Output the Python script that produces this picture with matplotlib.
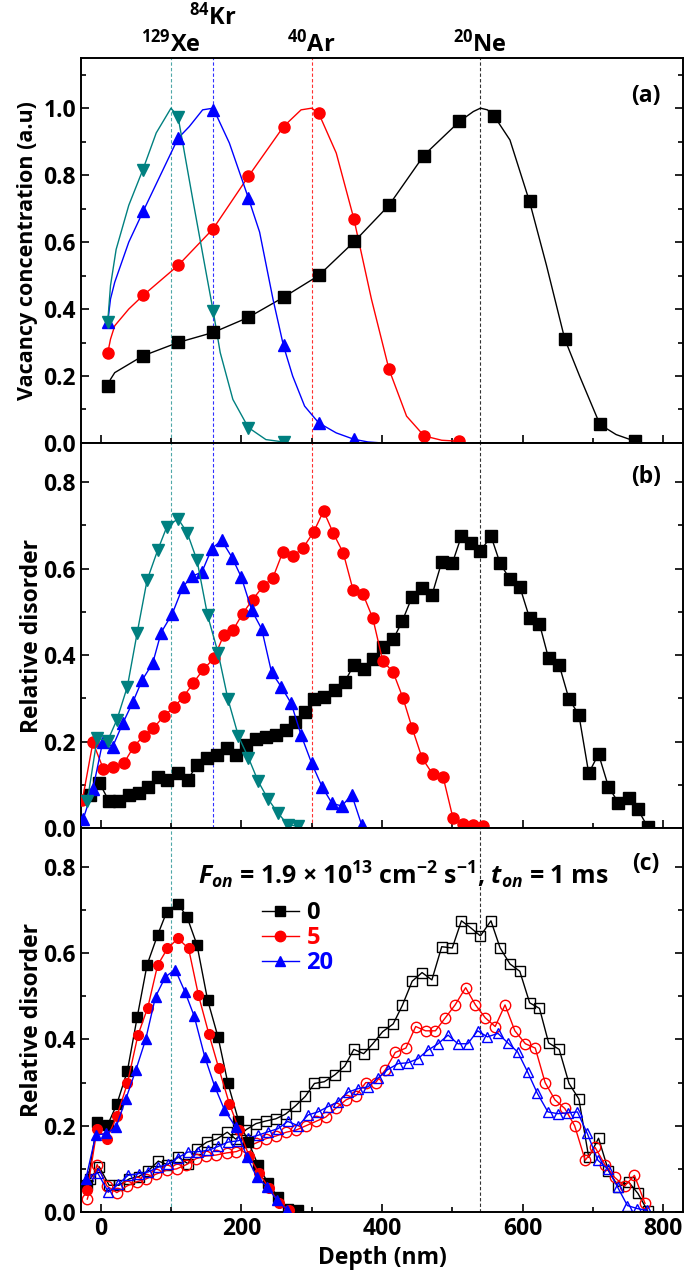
"""Profils de lacunes (SRIM) et de désordre relatif (RBS/C) en fonction de la profondeur.

Trois panneaux empilés : (a) concentration de lacunes calculée, (b) désordre
relatif mesuré pour chaque ion, (c) effet du flux pulsé pour Xe et Ne.
"""

import matplotlib

matplotlib.use("Agg")
import matplotlib.pyplot as plt
from matplotlib.lines import Line2D
from matplotlib.ticker import MultipleLocator

plt.rcParams["font.family"] = ["Open Sans", "DejaVu Sans"]
plt.rcParams["font.weight"] = "bold"
plt.rcParams["axes.labelweight"] = "bold"
plt.rcParams["mathtext.fontset"] = "custom"
plt.rcParams["mathtext.rm"] = "Open Sans:bold"
plt.rcParams["mathtext.it"] = "Open Sans:italic:bold"
plt.rcParams["mathtext.bf"] = "Open Sans:bold"

BLACK, RED, BLUE, TEAL = "black", "#ff0000", "#0000ff", "#008080"

# --- (a) concentration de lacunes : courbe + symboles tous les 50 nm -----
A_NE_CURVE_X = [10, 14, 20, 60, 110, 160, 210, 260, 310, 360, 410, 460, 510,
                530, 540, 550, 560, 582, 610, 634, 660, 681, 710, 733, 760]
A_NE_CURVE_Y = [0.17, 0.19, 0.21, 0.26, 0.30, 0.33, 0.375, 0.435, 0.50, 0.60,
                0.71, 0.86, 0.96, 0.99, 1.0, 0.995, 0.975, 0.905, 0.72, 0.53,
                0.31, 0.2, 0.055, 0.025, 0.005]
A_NE_X = [10, 60, 110, 160, 210, 260, 310, 360, 410, 460, 510, 560, 610, 660,
          710, 760]
A_NE_Y = [0.169, 0.26, 0.302, 0.332, 0.377, 0.437, 0.503, 0.603, 0.712, 0.858,
          0.963, 0.977, 0.724, 0.309, 0.056, 0.006]

A_AR_CURVE_X = [10, 14, 20, 40, 60, 110, 160, 210, 260, 285, 300, 310, 335,
                360, 385, 410, 435, 460, 485, 510]
A_AR_CURVE_Y = [0.268, 0.31, 0.35, 0.40, 0.44, 0.53, 0.64, 0.796, 0.945, 0.995,
                1.0, 0.985, 0.866, 0.67, 0.43, 0.22, 0.08, 0.021, 0.008, 0.005]
A_AR_X = [10, 60, 110, 160, 210, 260, 310, 360, 410, 460, 510]
A_AR_Y = [0.268, 0.441, 0.531, 0.64, 0.796, 0.945, 0.985, 0.67, 0.22, 0.021,
          0.006]

A_KR_CURVE_X = [10, 14, 20, 40, 60, 85, 110, 126, 145, 160, 183, 210, 226, 245,
                260, 273, 290, 310, 335, 360, 380, 400]
A_KR_CURVE_Y = [0.36, 0.43, 0.48, 0.60, 0.69, 0.80, 0.91, 0.945, 0.995, 1.0,
                0.896, 0.732, 0.63, 0.43, 0.29, 0.2, 0.11, 0.06, 0.03, 0.011,
                0.003, 0.0]
A_KR_X = [10, 60, 110, 160, 210, 260, 310, 360]
A_KR_Y = [0.36, 0.692, 0.911, 0.995, 0.732, 0.292, 0.061, 0.011]

A_XE_CURVE_X = [10, 14, 22, 40, 60, 79, 100, 110, 131, 150, 160, 170, 188, 210,
                235, 260]
A_XE_CURVE_Y = [0.36, 0.47, 0.578, 0.71, 0.816, 0.926, 1.0, 0.975, 0.727,
                0.508, 0.394, 0.27, 0.13, 0.046, 0.01, 0.003]
A_XE_X = [10, 60, 110, 160, 210, 260]
A_XE_Y = [0.361, 0.816, 0.975, 0.394, 0.046, 0.003]

# --- (b) désordre relatif, fluence nulle --------------------------------
B_NE_X = [-15, -2, 12, 26, 41, 54, 68, 82, 95, 110, 124, 137, 151, 165, 180,
          192, 207, 221, 235, 249, 263, 277, 291, 304, 318, 333, 347, 360, 374,
          387, 401, 416, 429, 443, 457, 471, 485, 500, 513, 526, 540, 555, 568,
          582, 596, 610, 624, 637, 652, 666, 680, 694, 708, 722, 736, 751, 764,
          778]
B_NE_Y = [0.077, 0.105, 0.062, 0.062, 0.077, 0.082, 0.096, 0.118, 0.11, 0.128,
          0.112, 0.146, 0.162, 0.169, 0.185, 0.169, 0.191, 0.205, 0.211, 0.216,
          0.227, 0.246, 0.268, 0.298, 0.302, 0.318, 0.338, 0.377, 0.367, 0.39,
          0.418, 0.436, 0.479, 0.535, 0.555, 0.538, 0.615, 0.612, 0.675, 0.659,
          0.64, 0.675, 0.612, 0.575, 0.558, 0.485, 0.472, 0.392, 0.377, 0.298,
          0.262, 0.127, 0.171, 0.096, 0.059, 0.069, 0.043, 0.002]

B_AR_X = [-26, -11, 4, 18, 33, 47, 61, 75, 90, 104, 118, 132, 146, 161, 175,
          188, 202, 216, 231, 245, 259, 273, 288, 303, 317, 331, 345, 359, 373,
          387, 401, 416, 430, 443, 457, 472, 487, 501, 515, 529, 544]
B_AR_Y = [0.065, 0.198, 0.136, 0.142, 0.15, 0.188, 0.213, 0.231, 0.259, 0.279,
          0.304, 0.336, 0.367, 0.392, 0.446, 0.457, 0.496, 0.528, 0.559, 0.579,
          0.638, 0.628, 0.648, 0.685, 0.733, 0.681, 0.636, 0.55, 0.541, 0.485,
          0.387, 0.36, 0.30, 0.231, 0.162, 0.125, 0.118, 0.023, 0.01, 0.008,
          0.004]

B_KR_X = [-25, -11, 3, 17, 32, 46, 59, 74, 86, 102, 117, 130, 144, 158, 172,
          187, 200, 215, 229, 243, 257, 271, 285, 300, 315, 329, 343, 357, 371]
B_KR_Y = [0.02, 0.09, 0.2, 0.188, 0.244, 0.292, 0.342, 0.381, 0.452, 0.496,
          0.558, 0.582, 0.592, 0.646, 0.665, 0.625, 0.58, 0.503, 0.46, 0.36,
          0.326, 0.288, 0.215, 0.15, 0.095, 0.057, 0.051, 0.077, 0.008]

B_XE_X = [-19, -5, 10, 23, 38, 52, 66, 81, 94, 110, 123, 137, 152, 167, 181,
          196, 210, 224, 238, 252, 266, 281]
B_XE_Y = [0.062, 0.208, 0.202, 0.25, 0.327, 0.452, 0.573, 0.642, 0.696, 0.715,
          0.683, 0.619, 0.492, 0.405, 0.298, 0.212, 0.163, 0.108, 0.067, 0.035,
          0.008, 0.004]

# --- (c) Xe (symboles pleins) et Ne (symboles creux) pour 0, 5 et 20 -----
C_XE5_X = [-19, -5, 9, 23, 38, 53, 67, 81, 95, 110, 125, 139, 154, 168, 183,
           197, 211, 225, 240, 254, 268]
C_XE5_Y = [0.05, 0.193, 0.17, 0.222, 0.298, 0.41, 0.474, 0.572, 0.611, 0.634,
           0.611, 0.503, 0.412, 0.333, 0.251, 0.19, 0.13, 0.09, 0.055, 0.02,
           0.005]
C_XE20_X = [-21, -7, 8, 22, 36, 50, 64, 78, 92, 106, 120, 133, 148, 162, 176,
            192, 208, 222, 237, 251, 265]
C_XE20_Y = [0.077, 0.178, 0.182, 0.197, 0.263, 0.329, 0.4, 0.499, 0.545, 0.562,
            0.51, 0.454, 0.36, 0.292, 0.237, 0.197, 0.128, 0.081, 0.058, 0.027,
            0.005]
C_NE5_X = [-19, -5, 9, 23, 37, 51, 65, 79, 94, 108, 122, 136, 150, 164, 179,
           193, 207, 221, 235, 249, 264, 278, 292, 306, 320, 334, 349, 363, 377,
           391, 405, 419, 434, 448, 462, 476, 490, 504, 519, 533, 547, 561, 575,
           589, 604, 618, 632, 646, 660, 674, 689, 703, 717, 731, 745, 759, 774]
C_NE5_Y = [0.03, 0.11, 0.06, 0.045, 0.06, 0.07, 0.077, 0.088, 0.097, 0.1,
           0.11, 0.124, 0.13, 0.132, 0.137, 0.14, 0.15, 0.16, 0.17, 0.176,
           0.185, 0.19, 0.2, 0.21, 0.22, 0.24, 0.26, 0.27, 0.3, 0.3,
           0.33, 0.37, 0.38, 0.43, 0.42, 0.42, 0.45, 0.48, 0.52, 0.48,
           0.45, 0.43, 0.48, 0.42, 0.39, 0.38, 0.30, 0.26, 0.24, 0.20,
           0.12, 0.15, 0.11, 0.08, 0.06, 0.085, 0.02]
C_NE20_X = [-18, -4, 11, 25, 39, 54, 68, 82, 96, 110, 124, 139, 153, 167, 181,
            195, 210, 224, 238, 252, 266, 281, 295, 309, 323, 337, 352, 366,
            380, 394, 408, 423, 437, 451, 465, 479, 494, 508, 522, 536, 550,
            565, 579, 593, 607, 621, 636, 650, 664, 678, 692, 707, 721, 735,
            749, 763, 777]
C_NE20_Y = [0.083, 0.09, 0.046, 0.064, 0.085, 0.089, 0.093, 0.104, 0.111, 0.126,
            0.139, 0.14, 0.143, 0.152, 0.162, 0.165, 0.172, 0.178, 0.186, 0.193,
            0.21, 0.2, 0.225, 0.232, 0.244, 0.255, 0.278, 0.286, 0.29, 0.31,
            0.33, 0.344, 0.346, 0.355, 0.375, 0.389, 0.41, 0.39, 0.39, 0.42,
            0.406, 0.414, 0.392, 0.371, 0.325, 0.275, 0.232, 0.228, 0.23, 0.232,
            0.182, 0.12, 0.1, 0.058, 0.015, 0.008, 0.004]
# À fluence nulle, les profils Xe et Ne sont ceux du panneau (b).
C_XE0_X, C_XE0_Y = B_XE_X, B_XE_Y
C_NE0_X, C_NE0_Y = B_NE_X, B_NE_Y

PEAK_DEPTHS = {"Xe": 100, "Kr": 160, "Ar": 300, "Ne": 540}
ION_LABELS = {"Xe": r"$^{129}$Xe", "Kr": r"$^{84}$Kr", "Ar": r"$^{40}$Ar",
              "Ne": r"$^{20}$Ne"}
GUIDE_COLORS = {"Xe": "#4fa8a8", "Kr": "#3030ff", "Ar": "#ff3030", "Ne": "#333333"}
LEGEND_LABELS = ["0", "5", "20"]
FS = 16.5


def style_axis(ax, ymax, major, minor):
    ax.set_xlim(-28, 828)
    ax.set_ylim(0, ymax)
    ax.xaxis.set_major_locator(MultipleLocator(200))
    ax.xaxis.set_minor_locator(MultipleLocator(100))
    ax.yaxis.set_major_locator(MultipleLocator(major))
    ax.yaxis.set_minor_locator(MultipleLocator(minor))
    ax.tick_params(which="both", direction="in", top=False, right=True,
                   labelsize=FS, width=1.2)
    ax.tick_params(which="major", length=6)
    ax.tick_params(which="minor", length=3.5)
    for spine in ax.spines.values():
        spine.set_linewidth(1.4)


def guides(ax, ions):
    for ion in ions:
        ax.axvline(PEAK_DEPTHS[ion], color=GUIDE_COLORS[ion], lw=0.8,
                   ls=(0, (3, 2)), zorder=1)


fig = plt.figure(figsize=(6.85, 12.85), dpi=100)
ax_a = fig.add_axes([0.1182, 0.6553, 0.8788, 0.2996])
ax_b = fig.add_axes([0.1182, 0.3556, 0.8788, 0.2996])
ax_c = fig.add_axes([0.1182, 0.0568, 0.8788, 0.2988])

# (a)
guides(ax_a, ["Xe", "Kr", "Ar", "Ne"])
for cx, cy, mx, my, color, marker in [
    (A_NE_CURVE_X, A_NE_CURVE_Y, A_NE_X, A_NE_Y, BLACK, "s"),
    (A_AR_CURVE_X, A_AR_CURVE_Y, A_AR_X, A_AR_Y, RED, "o"),
    (A_KR_CURVE_X, A_KR_CURVE_Y, A_KR_X, A_KR_Y, BLUE, "^"),
    (A_XE_CURVE_X, A_XE_CURVE_Y, A_XE_X, A_XE_Y, TEAL, "v"),
]:
    ax_a.plot(cx, cy, color=color, lw=1.0, zorder=2)
    ax_a.plot(mx, my, ls="none", marker=marker, color=color, ms=8, zorder=3)
style_axis(ax_a, 1.15, 0.2, 0.1)
ax_a.tick_params(labelbottom=False)
ax_a.set_ylabel("Vacancy concentration (a.u)", fontsize=15.5)
ax_a.yaxis.set_label_coords(-0.072, 0.5)
for ion, ypos in [("Xe", 1.035), ("Kr", 1.105), ("Ar", 1.035), ("Ne", 1.035)]:
    ax_a.text(PEAK_DEPTHS[ion], ypos, ION_LABELS[ion], fontsize=17,
              ha="center", va="center",
              transform=ax_a.get_xaxis_transform())
ax_a.text(0.939, 0.9, "(a)", transform=ax_a.transAxes, fontsize=FS,
          ha="center", va="center")

# (b)
guides(ax_b, ["Xe", "Kr", "Ar", "Ne"])
for x, y, color, marker in [
    (B_NE_X, B_NE_Y, BLACK, "s"),
    (B_AR_X, B_AR_Y, RED, "o"),
    (B_KR_X, B_KR_Y, BLUE, "^"),
    (B_XE_X, B_XE_Y, TEAL, "v"),
]:
    ax_b.plot(x, y, color=color, lw=1.0, marker=marker, ms=8, zorder=3)
style_axis(ax_b, 0.89, 0.2, 0.1)
ax_b.tick_params(labelbottom=False)
ax_b.set_ylabel("Relative disorder", fontsize=FS)
ax_b.yaxis.set_label_coords(-0.062, 0.5)
ax_b.text(0.939, 0.912, "(b)", transform=ax_b.transAxes, fontsize=FS,
          ha="center", va="center")

# (c)
guides(ax_c, ["Xe", "Ne"])
for x, y, color, marker in [
    (C_NE0_X, C_NE0_Y, BLACK, "s"),
    (C_NE5_X, C_NE5_Y, RED, "o"),
    (C_NE20_X, C_NE20_Y, BLUE, "^"),
]:
    ax_c.plot(x, y, color=color, lw=1.0, marker=marker, ms=7.5, mfc="none",
              mew=1.0, zorder=2)
for x, y, color, marker in [
    (C_XE0_X, C_XE0_Y, BLACK, "s"),
    (C_XE5_X, C_XE5_Y, RED, "o"),
    (C_XE20_X, C_XE20_Y, BLUE, "^"),
]:
    ax_c.plot(x, y, color=color, lw=1.0, marker=marker, ms=7, zorder=3)
style_axis(ax_c, 0.89, 0.2, 0.1)
ax_c.set_ylabel("Relative disorder", fontsize=FS)
ax_c.yaxis.set_label_coords(-0.062, 0.5)
ax_c.set_xlabel("Depth (nm)", fontsize=FS)
ax_c.text(0.195, 0.878,
          r"$\it{F}_{\it{on}}$ = 1.9 $\times$ 10$^{13}$ cm$^{-2}$ s$^{-1}$, "
          r"$\it{t}_{\it{on}}$ = 1 ms",
          transform=ax_c.transAxes, fontsize=18, ha="left", va="center")
ax_c.text(0.939, 0.906, "(c)", transform=ax_c.transAxes, fontsize=FS,
          ha="center", va="center")

handles = [Line2D([], [], color=c, marker=m, ms=7.5, lw=1.0)
           for c, m in [(BLACK, "s"), (RED, "o"), (BLUE, "^")]]
leg = ax_c.legend(handles, LEGEND_LABELS, loc="upper left",
                  bbox_to_anchor=(0.3, 0.81), frameon=False, fontsize=17,
                  handlelength=1.6, handletextpad=0.3, labelspacing=0.05,
                  borderpad=0, borderaxespad=0)
for text, color in zip(leg.get_texts(), [BLACK, RED, BLUE]):
    text.set_color(color)

fig.savefig("out.png", dpi=100)
